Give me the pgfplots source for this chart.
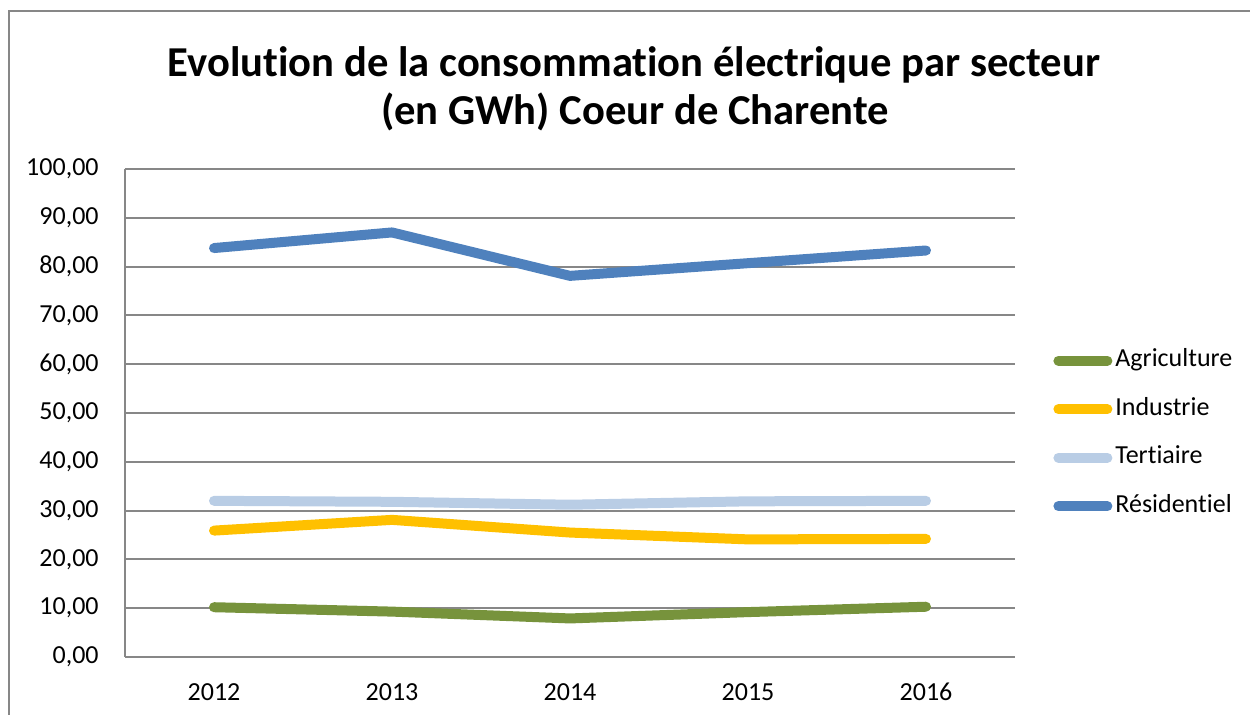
\documentclass[border=0pt]{standalone}
\usepackage{fontspec}
\setmainfont{Carlito}[RawFeature={-liga;-clig;-calt;-dlig}]
\usepackage{pgfplots}
\pgfplotsset{compat=1.18}
\definecolor{agri}{HTML}{77933C}
\definecolor{indu}{HTML}{FFC000}
\definecolor{tert}{HTML}{B9CDE5}
\definecolor{resi}{HTML}{4F81BD}
\definecolor{gridgray}{HTML}{878787}
\begin{document}
\begin{tikzpicture}
\begin{scope}[x=0.5pt,y=-0.5pt]
\useasboundingbox (0,0) rectangle (1250,715);
\begin{scope}
\clip (0,0) rectangle (1250,715);
\draw[color=gridgray, line width=1pt] (9,11) rectangle (1300,800);
\end{scope}
\node[anchor=base, font=\bfseries\fontsize{21.3}{25}\selectfont, inner sep=0pt] at (634,77) {Evolution de la consommation électrique par secteur};
\node[anchor=base, font=\bfseries\fontsize{21.3}{25}\selectfont, inner sep=0pt] at (635,125) {(en GWh) Coeur de Charente};
\end{scope}
\begin{axis}[
  at={(62.5pt,-328.5pt)}, anchor=south west,
  scale only axis, width=445pt, height=244pt,
  xmin=-0.5, xmax=4.5, ymin=0, ymax=100,
  xtick={0,1,2,3,4}, xticklabels={2012,2013,2014,2015,2016},
  ytick={0,10,...,100},
  major tick length=0pt,
  axis lines*=left,
  axis line style={gridgray, line width=1pt},
  ymajorgrids, grid style={gridgray, line width=1pt},
  tick label style={font=\fontsize{13}{15.6}\selectfont, inner sep=0pt},
  yticklabel style={anchor=east, xshift=-13pt,
    /pgf/number format/.cd, fixed, fixed zerofill, precision=2, use comma, assume math mode=true},
  xticklabel style={anchor=north, yshift=-13pt},
  clip=false,
  legend style={draw=none, fill=none, at={(1.0427,0.458)}, anchor=west,
    font=\fontsize{13}{15.6}\selectfont, row sep=12.25pt, column sep=1.5pt, inner sep=0pt,
    nodes={inner sep=0pt, text height=9pt, text depth=3pt}},
  legend cell align=left,
  legend image code/.code={\draw[line width=5pt, line cap=round, #1] (2.5pt,0pt) -- (27pt,0pt);},
  every axis plot/.append style={line width=5pt, line cap=round, line join=round},
]
\addplot[agri] coordinates {(0,10.2) (1,9.3) (2,7.9) (3,9.2) (4,10.3)};
\addlegendentry{Agriculture}
\addplot[indu] coordinates {(0,25.9) (1,28.1) (2,25.5) (3,24.1) (4,24.2)};
\addlegendentry{Industrie}
\addplot[tert] coordinates {(0,32.0) (1,31.8) (2,31.2) (3,31.9) (4,32.0)};
\addlegendentry{Tertiaire}
\addplot[resi] coordinates {(0,83.8) (1,87.0) (2,78.1) (3,80.7) (4,83.3)};
\addlegendentry{Résidentiel}
\end{axis}
\end{tikzpicture}
\end{document}
